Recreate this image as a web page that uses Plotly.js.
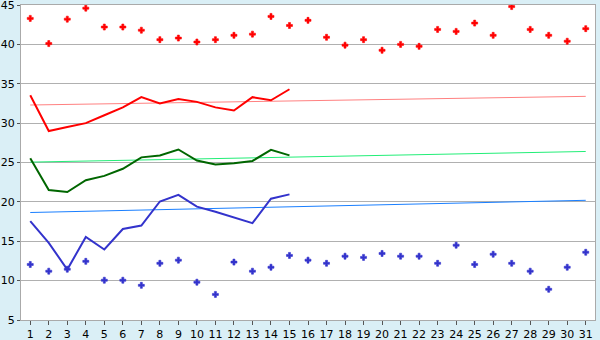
<!DOCTYPE html>
<html><head><meta charset="utf-8">
<script src="https://cdn.plot.ly/plotly-3.0.1.min.js"></script>
<style>html,body{margin:0;padding:0;background:#daeff6;}#chart{width:600px;height:340px;}</style>
</head><body><div id="chart"></div>
<script>
const days = Array.from({length:31},(_,i)=>i+1);
const lineDays = days.slice(0,15);
const redPoints = [43.3,40.1,43.2,44.6,42.2,42.2,41.8,40.6,40.8,40.3,40.6,41.15,41.3,43.55,42.4,43.05,40.9,39.9,40.6,39.25,40.0,39.75,41.9,41.65,42.7,41.15,44.8,41.9,41.15,40.4,42.0];
const redLine = [33.55,29.0,29.5,30.0,31.0,32.0,33.3,32.5,33.05,32.7,32.0,31.6,33.3,32.9,34.3];
const greenLine = [25.55,21.5,21.25,22.75,23.3,24.2,25.65,25.9,26.65,25.25,24.75,24.9,25.2,26.6,25.9];
const blueLine = [17.55,14.8,11.4,15.55,13.95,16.55,17.0,20.05,20.9,19.4,18.75,18.0,17.3,20.4,20.95];
const bluePoints = [12.05,11.2,11.45,12.45,10.05,10.05,9.4,12.2,12.6,9.8,8.25,12.35,11.2,11.7,13.2,12.6,12.2,13.1,12.95,13.45,13.1,13.1,12.2,14.5,12.05,13.35,12.2,11.2,8.9,11.7,13.6];
const trendDays = [1,31];
const redTrend = [32.3,33.4];
const greenTrend = [25.05,26.4];
const blueTrend = [18.65,20.2];
const yTicks = [5,10,15,20,25,30,35,40,45];

const traces = [
 {x:trendDays,y:redTrend,mode:'lines',line:{color:'#ff8080',width:1}},
 {x:trendDays,y:greenTrend,mode:'lines',line:{color:'#22ee77',width:1}},
 {x:trendDays,y:blueTrend,mode:'lines',line:{color:'#1a7fff',width:1}},
 {x:days,y:redPoints,mode:'markers',marker:{symbol:'cross',size:5,color:'#ff0000',line:{width:0.6,color:'#ff0000'}}},
 {x:days,y:bluePoints,mode:'markers',marker:{symbol:'cross',size:5,color:'#3333cc',line:{width:0.6,color:'#3333cc'}}},
 {x:lineDays,y:redLine,mode:'lines',line:{color:'#ff0000',width:2}},
 {x:lineDays,y:greenLine,mode:'lines',line:{color:'#006600',width:2}},
 {x:lineDays,y:blueLine,mode:'lines',line:{color:'#3333cc',width:2}}
];
const layout = {
 width:600,height:340,
 margin:{l:21,r:5,t:5,b:20,pad:0},
 paper_bgcolor:'#daeff6',plot_bgcolor:'#ffffff',
 showlegend:false,
 font:{family:'DejaVu Sans, Verdana, sans-serif',size:11,color:'#000'},
 xaxis:{range:[0.5,31.5],tickmode:'array',tickvals:days,ticktext:days.map(String),
   showgrid:false,zeroline:false,showline:true,linecolor:'#aaaaaa',linewidth:1,mirror:true,
   ticks:'outside',ticklen:4,tickcolor:'#555',tickfont:{size:11},ticklabeloverflow:'allow'},
 yaxis:{range:[5,45],tickmode:'array',tickvals:yTicks,ticktext:yTicks.map(String),
   showgrid:true,gridcolor:'#b0b0b0',gridwidth:1,zeroline:false,showline:true,linecolor:'#aaaaaa',linewidth:1,mirror:true,
   ticks:'outside',ticklen:3,tickcolor:'#555',tickfont:{size:11},automargin:false,ticklabeloverflow:'allow'}
};
Plotly.newPlot('chart',traces,layout,{staticPlot:true,displayModeBar:false});
</script></body></html>
